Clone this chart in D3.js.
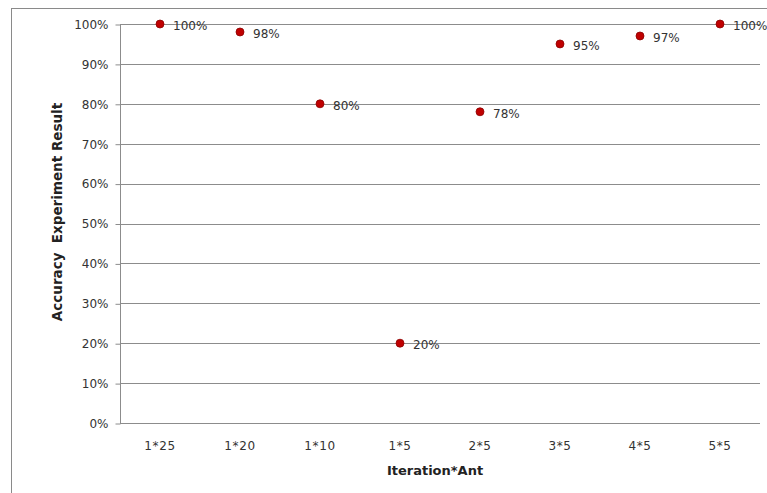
<!DOCTYPE html>
<html>
<head>
<meta charset="utf-8">
<script src="https://cdn.jsdelivr.net/npm/d3@7"></script>
<style>
  html, body { margin: 0; padding: 0; background: #fff; }
  svg { display: block; }
  text { font-family: "DejaVu Sans", sans-serif; }
</style>
</head>
<body>
<svg id="chart" width="767" height="493"></svg>
<script>
// Accuracy per Iteration*Ant configuration
const categories = ["1*25", "1*20", "1*10", "1*5", "2*5", "3*5", "4*5", "5*5"];
const accuracy = [100, 98, 80, 20, 78, 95, 97, 100];
const yTicks = [0, 10, 20, 30, 40, 50, 60, 70, 80, 90, 100];

const svg = d3.select("#chart");
const W = 767, H = 493;
const plot = { left: 120, right: 760, top: 24, bottom: 423 };

// outer chart frame (runs off the right and bottom edges)
svg.append("rect")
  .attr("x", 11.5).attr("y", 8.5)
  .attr("width", W + 10).attr("height", H + 10)
  .attr("fill", "#fff").attr("stroke", "#8a8a8a").attr("stroke-width", 1);

const x = d3.scaleBand().domain(categories).range([plot.left, plot.right]);
const y = d3.scaleLinear().domain([0, 100]).range([plot.bottom, plot.top]);

// horizontal gridlines
svg.append("g").selectAll("line").data(yTicks.filter(d => d > 0)).join("line")
  .attr("x1", plot.left).attr("x2", plot.right)
  .attr("y1", d => Math.round(y(d)) + 0.5).attr("y2", d => Math.round(y(d)) + 0.5)
  .attr("stroke", "#8c8c8c").attr("stroke-width", 1);

// y axis
const yAxis = svg.append("g")
  .attr("transform", `translate(${plot.left + 0.5},0.5)`)
  .call(d3.axisLeft(y).tickValues(yTicks).tickSize(5).tickPadding(7)
    .tickFormat(d => d + "%"));
yAxis.select(".domain").attr("stroke", "#8c8c8c").attr("d", `M0,${plot.top}V${plot.bottom}`);
yAxis.selectAll(".tick line").attr("stroke", "#8c8c8c");
yAxis.selectAll(".tick text")
  .attr("fill", "#333").attr("font-size", "12px")
  .attr("font-family", "DejaVu Sans, sans-serif");

// x axis
const xAxis = svg.append("g")
  .attr("transform", `translate(0,${Math.round(plot.bottom) + 0.5})`)
  .call(d3.axisBottom(x).tickSize(0).tickPadding(18));
xAxis.select(".domain").attr("stroke", "#8c8c8c").attr("d", `M${plot.left},0H${plot.right}`);
xAxis.selectAll(".tick text")
  .attr("fill", "#333").attr("font-size", "12px")
  .attr("letter-spacing", "0.6px")
  .attr("font-family", "DejaVu Sans, sans-serif");

// axis titles
svg.append("text")
  .attr("x", 435).attr("y", 475)
  .attr("text-anchor", "middle")
  .attr("font-family", "Open Sans, sans-serif")
  .attr("font-weight", "bold").attr("font-size", "13px").attr("fill", "#222")
  .text("Iteration*Ant");

svg.append("text")
  .attr("transform", "translate(62,212) rotate(-90)")
  .attr("text-anchor", "middle")
  .attr("font-family", "Open Sans, sans-serif")
  .attr("font-weight", "bold").attr("font-size", "13.5px").attr("fill", "#222")
  .attr("xml:space", "preserve")
  .text("Accuracy  Experiment Result");

// points and data labels
const pts = svg.append("g").selectAll("g").data(categories.map((c, i) => ({ c, v: accuracy[i] })))
  .join("g")
  .attr("transform", d => `translate(${x(d.c) + x.bandwidth() / 2},${y(d.v)})`);

pts.append("text")
  .attr("x", 13).attr("dy", "0.5em")
  .attr("font-size", "12px").attr("fill", "#333")
  .attr("font-family", "DejaVu Sans, sans-serif")
  .text(d => d.v + "%");

pts.append("circle")
  .attr("r", 4)
  .attr("fill", "#c00000").attr("stroke", "#8b0000").attr("stroke-width", 0.8);
</script>
</body>
</html>
